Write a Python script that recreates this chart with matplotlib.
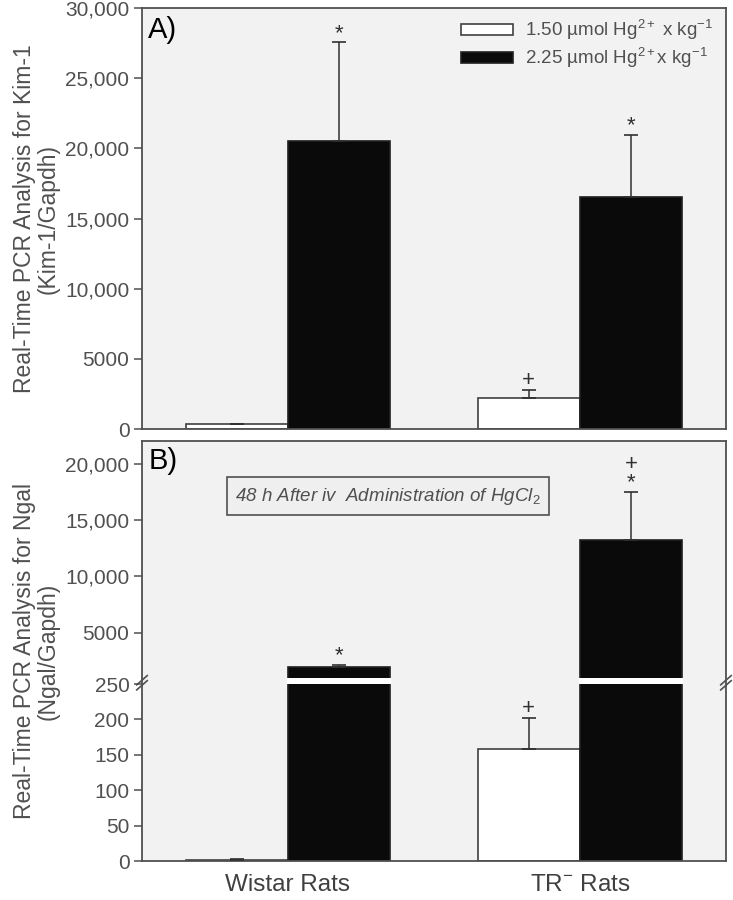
import numpy as np
import matplotlib
matplotlib.use("Agg")
import matplotlib.pyplot as plt
from matplotlib.ticker import FuncFormatter

plt.rcParams['font.family'] = ['Liberation Sans', 'DejaVu Sans']
plt.rcParams['mathtext.fontset'] = 'custom'
plt.rcParams['mathtext.rm'] = 'Liberation Sans'
plt.rcParams['mathtext.it'] = 'Liberation Sans:italic'

# data
groups = ['Wistar Rats', 'TR$^{-}$ Rats']
series = ['1.50 µmol Hg$^{2+}$ x kg$^{-1}$', '2.25 µmol Hg$^{2+}$x kg$^{-1}$']

kim_low = [330, 2230]
kim_low_err = [60, 550]
kim_high = [20500, 16550]
kim_high_err = [7050, 4380]
kim_low_marks = ['', '+']
kim_high_marks = ['*', '*']

ngal_low = [2, 158]
ngal_low_err = [0.5, 44]
ngal_high = [1970, 13200]
ngal_high_err = [200, 4270]
ngal_low_marks = ['', '+']
ngal_high_marks = ['*', '+\n*']

kim_ticks = [0, 5000, 10000, 15000, 20000, 25000, 30000]
ngal_ticks = [0, 50, 100, 150, 200, 250, 5000, 10000, 15000, 20000]

GREY = '#505050'
BG = '#f2f2f2'
w = 0.35
x = np.arange(len(groups))


def fmt(v, pos=None):
    v = int(round(v))
    return f"{v:,}" if v >= 10000 else str(v)


# broken axis for panel B: 0-250 low part, gap, 1000-22000 upper part
LO_H, GAP, HI_H = 177.0, 6.0, 237.0


def fwd(y):
    y = np.asarray(y, dtype=float)
    return np.where(y <= 250, y / 250 * LO_H,
                    np.where(y <= 1000, LO_H + (y - 250) / 750 * GAP,
                             LO_H + GAP + (y - 1000) / 21000 * HI_H))


def inv(t):
    t = np.asarray(t, dtype=float)
    return np.where(t <= LO_H, t / LO_H * 250,
                    np.where(t <= LO_H + GAP, 250 + (t - LO_H) / GAP * 750,
                             1000 + (t - LO_H - GAP) / HI_H * 21000))


def draw_bars(ax, low, low_err, high, high_err, low_marks, high_marks):
    ax.bar(x - w / 2, low, w, color='white', edgecolor='#404040', lw=1.2,
           label=series[0], zorder=2)
    ax.bar(x + w / 2, high, w, color='#0a0a0a', edgecolor='#202020', lw=1.2,
           label=series[1], zorder=2)
    ax.errorbar(x - w / 2, low, yerr=[np.zeros(len(low)), low_err], fmt='none',
                ecolor='#303030', elinewidth=1.1, capsize=5, capthick=1.2, zorder=3)
    ax.errorbar(x + w / 2, high, yerr=[np.zeros(len(high)), high_err], fmt='none',
                ecolor='#303030', elinewidth=1.1, capsize=5, capthick=1.2, zorder=3)
    for xs, vals, errs, marks in [(x - w / 2, low, low_err, low_marks),
                                  (x + w / 2, high, high_err, high_marks)]:
        for xi, v, e, m in zip(xs, vals, errs, marks):
            if m:
                ax.annotate(m, (xi, v + e), xytext=(0, -1), textcoords='offset points',
                            ha='center', va='bottom', fontsize=16, color='#303030',
                            linespacing=0.85)


def style(ax):
    ax.set_facecolor(BG)
    for s in ax.spines.values():
        s.set_color(GREY)
        s.set_linewidth(1.3)
    ax.tick_params(axis='y', direction='out', length=6, width=1.1, color=GREY,
                   labelcolor=GREY, labelsize=15, pad=3)
    ax.tick_params(axis='x', length=0, labelsize=17.5, labelcolor='#404040', pad=9)
    ax.set_xlim(-0.5, 1.5)
    ax.set_xticks(x)


fig = plt.figure(figsize=(7.33, 9), dpi=100)

# panel A
axA = fig.add_axes([0.1937, 0.5233, 0.7967, 0.4678])
style(axA)
draw_bars(axA, kim_low, kim_low_err, kim_high, kim_high_err, kim_low_marks, kim_high_marks)
axA.set_ylim(0, 30000)
axA.set_yticks(kim_ticks)
axA.yaxis.set_major_formatter(FuncFormatter(fmt))
axA.set_xticklabels([])
axA.set_ylabel('Real-Time PCR Analysis for Kim-1\n(Kim-1/Gapdh)', fontsize=16.5,
               color=GREY, labelpad=4, linespacing=1.05)
axA.text(0.011, 0.98, 'A)', transform=axA.transAxes, ha='left', va='top',
         fontsize=21, color='black')
axA.legend(loc='upper right', bbox_to_anchor=(1.0, 1.007), frameon=False,
           handlelength=2.8, handleheight=0.55, fontsize=13.5, labelcolor=GREY,
           borderaxespad=0.3, handletextpad=0.6, labelspacing=0.2)

# panel B
axB = fig.add_axes([0.1937, 0.0433, 0.7967, 0.4667])
style(axB)
axB.set_yscale('function', functions=(fwd, inv))
draw_bars(axB, ngal_low, ngal_low_err, ngal_high, ngal_high_err, ngal_low_marks, ngal_high_marks)
axB.set_ylim(0, 22000)
axB.set_yticks(ngal_ticks)
axB.yaxis.set_major_formatter(FuncFormatter(fmt))
axB.yaxis.set_minor_locator(matplotlib.ticker.NullLocator())
axB.set_xticklabels(groups)
axB.set_ylabel('Real-Time PCR Analysis for Ngal\n(Ngal/Gapdh)', fontsize=16.5,
               color=GREY, labelpad=4, linespacing=1.05)
axB.text(0.011, 0.985, 'B)', transform=axB.transAxes, ha='left', va='top',
         fontsize=21, color='black')
axB.text(0.421, 0.869, '48 h After iv  Administration of HgCl$_2$', transform=axB.transAxes,
         ha='center', va='center', fontsize=13.5, style='italic', color=GREY,
         bbox=dict(boxstyle='square,pad=0.45', fc='#efefef', ec=GREY, lw=1.2))

# white gap through the bars at the break
for xs, vals in [(x - w / 2, ngal_low), (x + w / 2, ngal_high)]:
    for xi, v in zip(xs, vals):
        if v > 1000:
            axB.bar(xi, 750, w * 1.02, bottom=250, color='white', lw=0, zorder=4)

# break marks on both spines
yb = LO_H / 420 + 0.003
for xa in (0.0, 1.0):
    for dy in (-0.006, 0.006):
        axB.plot([xa - 0.009, xa + 0.009], [yb + dy - 0.011, yb + dy + 0.011],
                 transform=axB.transAxes, color=GREY, lw=1.2, clip_on=False, zorder=5)

fig.savefig('out.png', dpi=100, facecolor='white')
